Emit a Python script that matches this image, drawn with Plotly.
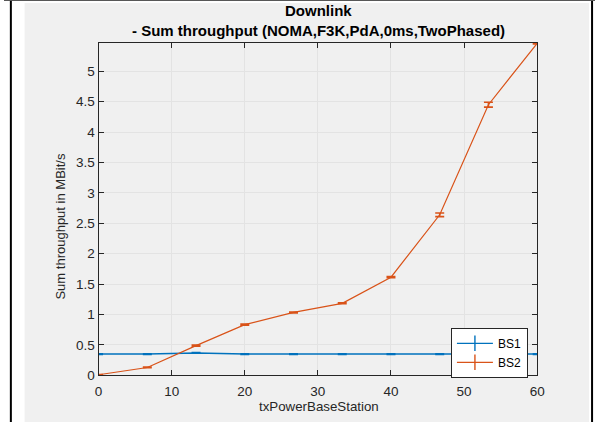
import plotly.graph_objects as go

# ---- data ----
tx_power = [0, 6.667, 13.333, 20, 26.667, 33.333, 40, 46.667, 53.333, 60]
bs1 = [0.35, 0.35, 0.37, 0.35, 0.35, 0.35, 0.35, 0.35, 0.35, 0.35]
bs1_err = [0.005, 0.005, 0.005, 0.005, 0.005, 0.005, 0.005, 0.005, 0.005, 0.005]
bs2 = [0.01, 0.13, 0.49, 0.835, 1.035, 1.185, 1.615, 2.64, 4.45, 5.46]
bs2_err = [0.005, 0.005, 0.01, 0.01, 0.008, 0.008, 0.01, 0.03, 0.04, 0.01]
series_names = ["BS1", "BS2"]
x_ticks = [0, 10, 20, 30, 40, 50, 60]
y_ticks = [0, 0.5, 1, 1.5, 2, 2.5, 3, 3.5, 4, 4.5, 5]
y_tick_text = ["0", "0.5", "1", "1.5", "2", "2.5", "3", "3.5", "4", "4.5", "5"]
title_lines = ["Downlink", "- Sum throughput (NOMA,F3K,PdA,0ms,TwoPhased)"]
x_label = "txPowerBaseStation"
y_label = "Sum throughput in MBit/s"

W, H = 603, 430
BLUE = "#0072BD"
ORANGE = "#D95319"
AX = "#262626"
FONT = "Liberation Sans, Arial, sans-serif"


def px(x):
    return x / W


def py(y):
    return 1 - y / H


fig = go.Figure()
for name, ys, errs, col, lw in [(series_names[0], bs1, bs1_err, BLUE, 1.5),
                                (series_names[1], bs2, bs2_err, ORANGE, 1.2)]:
    fig.add_trace(go.Scatter(
        x=tx_power, y=ys, name=name, mode="lines", showlegend=False,
        line=dict(color=col, width=lw),
        error_y=dict(type="data", array=errs, color=col, thickness=1.6, width=4.5),
    ))
    # legend-only entry with an error-bar-like glyph
    fig.add_trace(go.Scatter(
        x=[None], y=[None], name=name, mode="lines+markers",
        line=dict(color=col, width=1.2),
        marker=dict(symbol="line-ns-open", size=11, color=col, line=dict(color=col, width=1.4)),
    ))

shapes = [
    dict(type="rect", xref="paper", yref="paper", x0=px(21), x1=px(597), y0=py(430), y1=py(3),
         fillcolor="#f0f0f0", line=dict(width=0), layer="below"),
    dict(type="line", xref="paper", yref="paper", x0=px(7), x1=px(7), y0=0, y1=1,
         line=dict(color="black", width=2)),
    dict(type="line", xref="paper", yref="paper", x0=px(600), x1=px(600), y0=0, y1=1,
         line=dict(color="black", width=2)),
    dict(type="line", xref="paper", yref="paper", x0=0, x1=1, y0=py(0.5), y1=py(0.5),
         line=dict(color="#555555", width=1)),
]

annotations = [
    dict(text="<b>%s</b>" % title_lines[0], xref="paper", yref="paper", x=px(321), y=py(11),
         xanchor="center", yanchor="middle", showarrow=False,
         font=dict(family=FONT, size=15, color="black")),
    dict(text="<b>%s</b>" % title_lines[1], xref="paper", yref="paper", x=px(321), y=py(31),
         xanchor="center", yanchor="middle", showarrow=False,
         font=dict(family=FONT, size=15, color="black")),
    dict(text=x_label, xref="paper", yref="paper", x=px(321), y=py(414),
         xanchor="center", yanchor="middle", showarrow=False,
         font=dict(family=FONT, size=13.3, color=AX)),
    dict(text=y_label, xref="paper", yref="paper", x=px(58), y=py(231),
         xanchor="center", yanchor="middle", showarrow=False, textangle=-90,
         font=dict(family=FONT, size=13, color=AX)),
]

fig.update_layout(
    width=W, height=H,
    margin=dict(l=0, r=0, t=0, b=0),
    paper_bgcolor="white",
    plot_bgcolor="white",
    shapes=shapes,
    annotations=annotations,
    font=dict(family=FONT, color=AX, size=12),
    xaxis=dict(
        domain=[px(96.5), px(544)], range=[0, 60],
        tickvals=x_ticks, ticks="inside", ticklen=5, tickcolor=AX,
        showline=True, linecolor=AX, linewidth=1, mirror="ticks",
        showgrid=True, gridcolor="#e3e3e3", zeroline=False,
        tickfont=dict(size=13.5, color=AX), ticklabelstandoff=3,
    ),
    yaxis=dict(
        domain=[py(382.5), py(43.5)], range=[0, 5.47],
        tickvals=y_ticks, ticktext=y_tick_text, ticks="inside", ticklen=5, tickcolor=AX,
        showline=True, linecolor=AX, linewidth=1, mirror="ticks",
        showgrid=True, gridcolor="#e3e3e3", zeroline=False,
        tickfont=dict(size=13.5, color=AX),
    ),
    showlegend=True,
    legend=dict(
        x=px(456), y=py(334), xanchor="left", yanchor="top",
        bgcolor="white", bordercolor=AX, borderwidth=1,
        font=dict(family=FONT, size=12, color="black"),
        tracegroupgap=0, itemwidth=36,
    ),
)

fig.write_html("out.html")
